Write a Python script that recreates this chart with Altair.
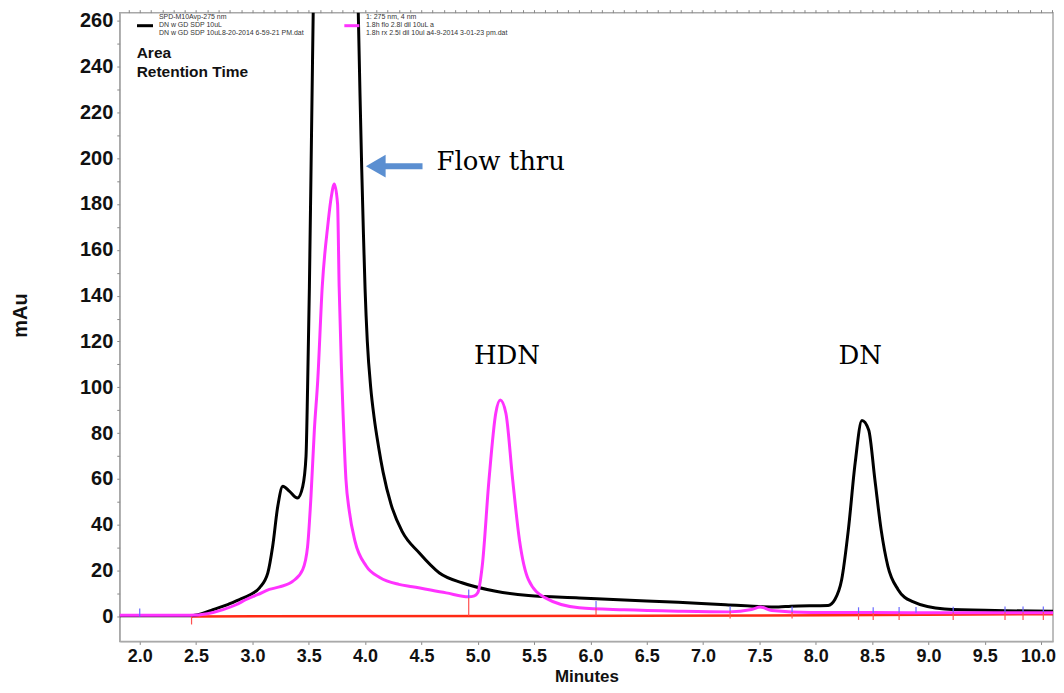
import altair as alt
import pandas as pd

# ---- data ----
black_x = [1.82, 2.30, 2.44, 2.55, 2.65, 2.78, 2.886, 2.98, 3.063, 3.137, 3.18, 3.225, 3.27, 3.33,
           3.40, 3.447, 3.476, 3.49, 3.506, 3.526, 3.55, 3.74, 3.94, 3.955, 3.97, 3.985, 4.00,
           4.02, 4.05, 4.08, 4.12, 4.16, 4.23, 4.33, 4.48, 4.66, 4.86, 5.16, 5.45, 5.90, 6.30,
           6.78, 7.20, 7.67, 7.78, 8.11, 8.17, 8.23, 8.29, 8.35, 8.41, 8.47, 8.525, 8.58, 8.64,
           8.73, 8.85, 9.145, 9.59, 10.11]
black_y = [0.3, 0.3, 0.3, 1.2, 3.0, 5.2, 7.4, 9.5, 12.5, 19.0, 30.6, 48.0, 56.8, 54.6,
           51.7, 56.8, 70.0, 100.0, 144.0, 215.0, 300.0, 900.0, 263.0, 228.0, 196.0, 168.0, 143.0,
           120.0, 100.0, 87.0, 74.0, 63.0, 49.0, 37.0, 27.8, 19.0, 14.7, 11.0, 9.1, 8.1, 7.2,
           6.2, 5.1, 4.1, 4.5, 4.8, 7.4, 16.0, 38.0, 67.0, 85.5, 81.4, 59.7, 38.0, 22.0,
           11.8, 6.7, 3.3, 2.6, 2.3]

mag_x = [1.82, 2.30, 2.44, 2.60, 2.74, 2.85, 2.945, 3.05, 3.15, 3.24, 3.36, 3.447, 3.49, 3.52,
         3.55, 3.58, 3.62, 3.67, 3.70, 3.727, 3.756, 3.77, 3.79, 3.80, 3.83, 3.86, 3.91, 4.01,
         4.13, 4.30, 4.42, 4.72, 4.92, 4.97, 5.00, 5.04, 5.10, 5.16, 5.20, 5.25, 5.31, 5.37,
         5.45, 5.60, 5.90, 6.30, 6.78, 7.23, 7.43, 7.51, 7.61, 7.96, 8.50, 9.20, 10.11]
mag_y = [0.5, 0.5, 0.5, 1.2, 3.0, 5.0, 7.4, 9.6, 11.8, 12.9, 15.4, 20.5, 30.6, 52.4,
         81.4, 103.0, 144.0, 171.0, 183.0, 188.7, 180.0, 144.0, 109.0, 95.0, 60.0, 46.0, 33.0, 22.0,
         17.0, 14.0, 13.0, 10.3, 8.6, 9.0, 10.3, 22.0, 59.7, 88.7, 94.5, 88.7, 59.7, 33.5,
         16.1, 8.1, 3.8, 2.9, 2.3, 2.0, 3.0, 4.1, 2.6, 1.7, 1.7, 1.6, 1.6]

base_x = [2.46, 8.12, 10.11]
base_y = [0.0, 0.5, 1.0]

blue_tick_x = [2.0, 4.92, 6.05, 7.24, 7.79, 8.38, 8.51, 8.74, 8.89, 9.22, 9.68, 9.84, 10.02]
blue_tick_y1 = [0.0, 8.1, 3.8, 2.3, 2.0, 1.5, 1.5, 1.6, 1.6, 1.7, 1.8, 1.8, 1.9]
blue_tick_y2 = [3.5, 11.8, 6.7, 4.5, 4.4, 4.0, 4.0, 4.1, 4.1, 4.2, 4.3, 4.3, 4.4]

red_tick_x = [2.46, 4.92, 6.05, 7.24, 7.79, 8.38, 8.51, 8.74, 9.22, 9.68, 9.84, 10.02]
red_tick_y1 = [-3.5, 0.3, 0.4, -0.9, -0.9, -1.5, -1.5, -1.5, -1.5, -1.5, -1.5, -1.5]
red_tick_y2 = [0.0, 8.1, 3.8, 2.3, 2.0, 1.5, 1.5, 1.6, 1.7, 1.8, 1.8, 1.9]

x_major = [2.0, 2.5, 3.0, 3.5, 4.0, 4.5, 5.0, 5.5, 6.0, 6.5, 7.0, 7.5, 8.0, 8.5, 9.0, 9.5, 10.0]
x_minor = [round(1.9 + 0.1 * i, 1) for i in range(83)]
y_tick_values = [0, 10, 20, 30, 40, 50, 60, 70, 80, 90, 100, 110, 120, 130, 140, 150, 160,
                 170, 180, 190, 200, 210, 220, 230, 240, 250, 260]

legend_black_lines = ["SPD-M10Avp-275 nm", "DN w GD SDP 10uL",
                      "DN w GD SDP 10uL8-20-2014 6-59-21 PM.dat"]
legend_mag_lines = ["1: 275 nm, 4 nm", "1.8h flo 2.8l dil 10uL a",
                    "1.8h rx 2.5l dil 10ul a4-9-2014 3-01-23 pm.dat"]
legend_line_y = [261.5, 257.9, 254.4]

peak_labels = ["HDN", "DN"]
peak_label_x = [5.26, 8.395]
peak_label_y = [110.0, 110.0]

# ---- scales ----
xs = alt.Scale(domain=[1.823, 10.106], nice=False, zero=False)
ys = alt.Scale(domain=[-10.9, 263.5], nice=False, zero=False)

AXIS_FONT = "Liberation Sans"
xaxis = alt.Axis(values=x_major, title="Minutes", format=".1f",
                 labelFont=AXIS_FONT, labelFontSize=18, labelFontWeight="bold", labelColor="#111",
                 labelPadding=3, tickSize=3, tickColor="#888", domainColor="#aaa", grid=False,
                 labelOffset={"condition": {"test": "datum.value >= 9.99", "value": -3}, "value": 0},
                 titleFont=AXIS_FONT, titleFontSize=17, titleFontWeight="bold", titleColor="#111",
                 titleY=40, titleBaseline="alphabetic", labelFlush=False, labelOverlap=False)
xaxis_minor = alt.Axis(values=x_minor, labels=False, title=None, domain=False, grid=False,
                       tickSize=3, tickColor="#888")
yaxis = alt.Axis(values=y_tick_values, title="mAu",
                 labelExpr="datum.value % 20 == 0 ? datum.value : ''",
                 labelFont=AXIS_FONT, labelFontSize=20, labelFontWeight="bold", labelColor="#111",
                 labelPadding=4, tickSize=3, tickColor="#888", domainColor="#aaa", grid=False,
                 titleFont=AXIS_FONT, titleFontSize=20, titleFontWeight="bold", titleColor="#111",
                 titleX=-99, titleY=303, titleBaseline="middle", labelOverlap=False)

black_df = pd.DataFrame({"x": black_x, "y": black_y})
mag_df = pd.DataFrame({"x": mag_x, "y": mag_y})
base_df = pd.DataFrame({"x": base_x, "y": base_y})
blue_df = pd.DataFrame({"x": blue_tick_x, "y": blue_tick_y1, "y2": blue_tick_y2})
red_df = pd.DataFrame({"x": red_tick_x, "y": red_tick_y1, "y2": red_tick_y2})

Y = alt.Y("y:Q", scale=ys, axis=yaxis)

base = alt.Chart(base_df).mark_line(color="#ff2a14", strokeWidth=2.5, clip=True).encode(
    x=alt.X("x:Q", scale=xs, axis=xaxis), y=Y)

black = alt.Chart(black_df).mark_line(color="#000000", strokeWidth=3, clip=True,
                                      interpolate="monotone").encode(
    x=alt.X("x:Q", scale=xs, axis=xaxis_minor), y=Y)

mag = alt.Chart(mag_df).mark_line(color="#ff33ff", strokeWidth=3, clip=True,
                                  interpolate="monotone").encode(
    x=alt.X("x:Q", scale=xs, axis=None), y=Y)

blue_ticks = alt.Chart(blue_df).mark_rule(color="#6a6aff", strokeWidth=1.2).encode(
    x=alt.X("x:Q", scale=xs, axis=None), y=Y, y2="y2:Q")
red_ticks = alt.Chart(red_df).mark_rule(color="#ff5050", strokeWidth=1.2).encode(
    x=alt.X("x:Q", scale=xs, axis=None), y=Y, y2="y2:Q")

# legend samples
leg_lines_df = pd.DataFrame({"x": [1.976, 3.816], "x2": [2.118, 3.949], "y": [257.8, 257.8],
                             "c": ["#000000", "#ff33ff"]})
leg_lines = alt.Chart(leg_lines_df).mark_rule(strokeWidth=3).encode(
    x=alt.X("x:Q", scale=xs, axis=None), x2="x2:Q", y=Y,
    color=alt.Color("c:N", scale=None))

leg_text_df = pd.DataFrame({
    "x": [2.17] * 3 + [4.008] * 3,
    "y": legend_line_y + legend_line_y,
    "t": legend_black_lines + legend_mag_lines,
})
leg_text = alt.Chart(leg_text_df).mark_text(align="left", baseline="middle", font=AXIS_FONT,
                                            fontSize=7, color="#333").encode(
    x=alt.X("x:Q", scale=xs, axis=None), y=Y, text="t:N")

area_df = pd.DataFrame({"x": [1.973, 1.973], "y": [243.8, 235.6], "t": ["Area", "Retention Time"]})
area_text = alt.Chart(area_df).mark_text(align="left", baseline="alphabetic", font=AXIS_FONT,
                                         fontSize=15.5, fontWeight="bold", color="#111").encode(
    x=alt.X("x:Q", scale=xs, axis=None), y=Y, text="t:N")

peaks_df = pd.DataFrame({"x": peak_label_x, "y": peak_label_y, "t": peak_labels})
peak_text = alt.Chart(peaks_df).mark_text(align="center", baseline="alphabetic", font="DejaVu Serif",
                                          fontSize=26, color="#000").encode(
    x=alt.X("x:Q", scale=xs, axis=None), y=Y, text="t:N")

flow_df = pd.DataFrame({"x": [4.633], "y": [195.0], "t": ["Flow thru"]})
flow_text = alt.Chart(flow_df).mark_text(align="left", baseline="alphabetic", font="DejaVu Serif",
                                         fontSize=26, color="#000").encode(
    x=alt.X("x:Q", scale=xs, axis=None), y=Y, text="t:N")

ARROW = "#5b8fd1"
shaft_df = pd.DataFrame({"x": [4.09], "x2": [4.51], "y": [196.5]})
shaft = alt.Chart(shaft_df).mark_rule(color=ARROW, strokeWidth=6).encode(
    x=alt.X("x:Q", scale=xs, axis=None), x2="x2:Q", y=Y)
head_df = pd.DataFrame({"x": [4.095], "y": [196.5]})
head = alt.Chart(head_df).mark_point(shape="triangle-left", filled=True, size=520, color=ARROW,
                                     opacity=1).encode(
    x=alt.X("x:Q", scale=xs, axis=None), y=Y)

chart = alt.layer(base, black, mag, blue_ticks, red_ticks, leg_lines, leg_text, area_text,
                  peak_text, flow_text, shaft, head).resolve_axis(x="independent").properties(
    width=935, height=630,
    autosize=alt.AutoSizeParams(type="none"),
    padding={"left": 112, "top": 4, "right": 3, "bottom": 43},
    background="white",
).configure_view(stroke="#a8a8a8", strokeWidth=1.5)

chart.save("out.html", embed_options={"renderer": "svg", "actions": False})
